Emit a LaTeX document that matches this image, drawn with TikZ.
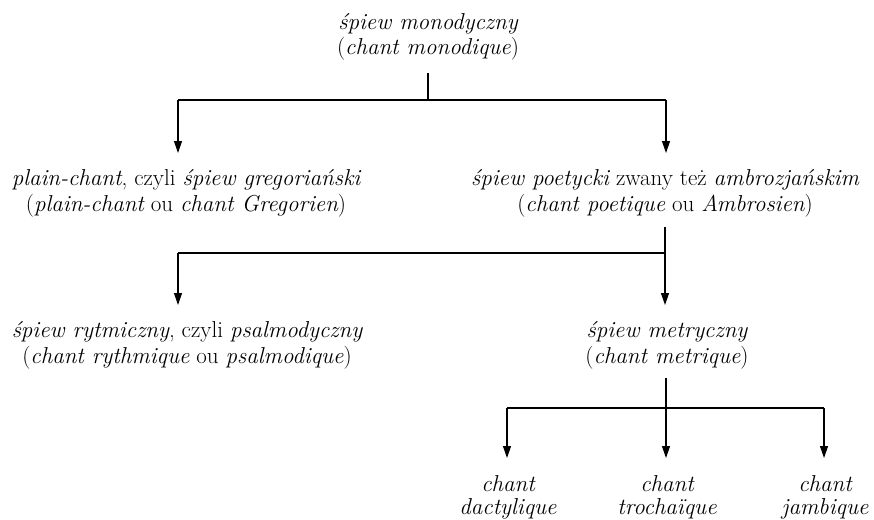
\documentclass[tikz,border=0pt]{standalone}
\usepackage{fontspec}
\usetikzlibrary{arrows.meta}
\newcommand\myup[1]{{\upshape #1}}
\begin{document}
\begin{tikzpicture}[x=1pt,y=-1pt,
  lbl/.style={align=center,inner sep=0pt,anchor=base,font=\fontsize{23}{25.5}\selectfont\itshape},
  lblb/.style={lbl,font=\fontsize{23}{23}\selectfont\itshape},
  conn/.style={line width=1.1pt,black},
  arr/.style={conn,-{Triangle[length=12pt,width=8pt]}}]
\useasboundingbox (0,0) rectangle (874,519);
% nodes (base anchor = baseline of the last line)
\node[lbl] (top) at (428,55) {śpiew monodyczny\\\myup{(}chant monodique\myup{)}};
\node[lbl] (pc) at (186,211) {plain-chant\myup{, czyli }śpiew gregoriański\\\myup{(}plain-chant\myup{ ou }chant Gregorien\myup{)}};
\node[lbl] (po) at (665,211) {śpiew poetycki\myup{ zwany też }ambrozjańskim\\\myup{(}chant poetique\myup{ ou }Ambrosien\myup{)}};
\node[lbl] (ry) at (187,363) {śpiew rytmiczny\myup{, czyli }psalmodyczny\\\myup{(}chant rythmique\myup{ ou }psalmodique\myup{)}};
\node[lbl] (me) at (667,363) {śpiew metryczny\\\myup{(}chant metrique\myup{)}};
\node[lblb] (da) at (508,514) {chant\\dactylique};
\node[lblb] (tr) at (667,514) {chant\\trochaïque};
\node[lblb] (ja) at (825,514) {chant\\jambique};
% junctions
\coordinate (j1) at (428,100);
\coordinate (j1l) at (178,100);
\coordinate (j1r) at (666,100);
\coordinate (j2) at (665,253);
\coordinate (j2l) at (178,253);
\coordinate (j3) at (666,408);
\coordinate (j3l) at (507,408);
\coordinate (j3r) at (824,408);
% arrow tips
\coordinate (t1l) at (178,153);
\coordinate (t1r) at (666,153);
\coordinate (t2l) at (178,305);
\coordinate (t2r) at (665,305);
\coordinate (t3l) at (507,458);
\coordinate (t3m) at (666,458);
\coordinate (t3r) at (824,458);
% connectors
\draw[conn] (j1 |- 0,73) -- (j1);
\draw[conn] (j1l) -- (j1r);
\draw[arr] (j1l) -- (t1l);
\draw[arr] (j1r) -- (t1r);
\draw[conn] (j2 |- 0,227) -- (j2);
\draw[conn] (j2l) -- (j2);
\draw[arr] (j2l) -- (t2l);
\draw[arr] (j2) -- (t2r);
\draw[conn] (j3 |- 0,378) -- (j3);
\draw[conn] (j3l) -- (j3r);
\draw[arr] (j3l) -- (t3l);
\draw[arr] (j3) -- (t3m);
\draw[arr] (j3r) -- (t3r);
\end{tikzpicture}
\end{document}
